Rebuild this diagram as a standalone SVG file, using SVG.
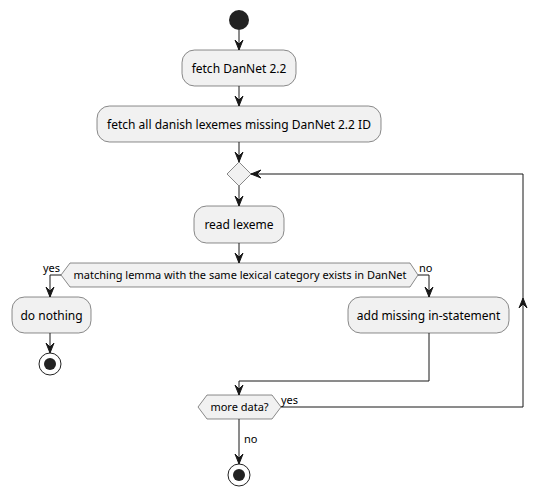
<svg xmlns="http://www.w3.org/2000/svg" width="548" height="495" viewBox="0 0 548 495">
<defs>
<style>
.box{fill:#F1F1F1;stroke:#181818;stroke-width:0.5}
.t{font-family:"Noto Sans","Open Sans",sans-serif;font-size:12px;fill:#000}
.l{font-family:"Noto Sans","Open Sans",sans-serif;font-size:11px;fill:#000}
.c{fill:none;stroke:#181818;stroke-width:1}
.ah{fill:#181818;stroke:#181818;stroke-width:1}
</style>
</defs>
<rect width="548" height="495" fill="#FFFFFF"/>
<g id="start"><circle cx="239" cy="20" r="10" fill="#222222"/></g>
<g id="fetch-dannet"><rect class="box" x="182" y="50" width="114" height="36" rx="12.5"/><text class="t" x="239" y="72.5" text-anchor="middle">fetch DanNet 2.2</text></g>
<g id="fetch-lexemes"><rect class="box" x="97" y="106" width="284" height="36" rx="12.5"/><text class="t" x="239" y="128.5" text-anchor="middle">fetch all danish lexemes missing DanNet 2.2 ID</text></g>
<g id="merge"><polygon class="box" points="239,162 251,174 239,186 227,174"/></g>
<g id="read-lexeme"><rect class="box" x="194" y="206" width="90" height="37" rx="12.5"/><text class="t" x="239" y="229" text-anchor="middle">read lexeme</text></g>
<g id="match-decision"><polygon class="box" points="61,275 70,263 410,263 418,275 410,287 70,287"/><text class="l" x="240" y="279" text-anchor="middle">matching lemma with the same lexical category exists in DanNet</text></g>
<g id="do-nothing"><rect class="box" x="12" y="297" width="79" height="36" rx="12.5"/><text class="t" x="51.5" y="319.5" text-anchor="middle">do nothing</text></g>
<g id="stop1"><circle cx="50" cy="364" r="11" fill="none" stroke="#222222" stroke-width="1"/><circle cx="50" cy="364" r="6" fill="#222222"/></g>
<g id="add-missing"><rect class="box" x="348" y="297" width="161" height="36" rx="12.5"/><text class="t" x="428.5" y="319.5" text-anchor="middle">add missing in-statement</text></g>
<g id="more-data"><polygon class="box" points="198,407 207,395 272,395 281,407 272,419 207,419"/><text class="l" x="239.5" y="411" text-anchor="middle">more data?</text></g>
<g id="stop2"><circle cx="239" cy="475" r="11" fill="none" stroke="#222222" stroke-width="1"/><circle cx="239" cy="475" r="6" fill="#222222"/></g>
<g id="connectors">
<line class="c" x1="239" y1="30" x2="239" y2="50"/>
<polygon class="ah" points="239,50 235,40 239,44 243,40"/>
<line class="c" x1="239" y1="86" x2="239" y2="106"/>
<polygon class="ah" points="239,106 235,96 239,100 243,96"/>
<line class="c" x1="239" y1="142" x2="239" y2="162"/>
<polygon class="ah" points="239,162 235,152 239,156 243,152"/>
<line class="c" x1="239" y1="186" x2="239" y2="206"/>
<polygon class="ah" points="239,206 235,196 239,200 243,196"/>
<line class="c" x1="239" y1="243" x2="239" y2="263"/>
<polygon class="ah" points="239,263 235,253 239,257 243,253"/>
<polyline class="c" points="61,275 50,275 50,297"/>
<polygon class="ah" points="50,297 46,287 50,291 54,287"/>
<text class="l" x="43" y="272">yes</text>
<polyline class="c" points="418,275 429,275 429,297"/>
<polygon class="ah" points="429,297 425,287 429,291 433,287"/>
<text class="l" x="419" y="272">no</text>
<line class="c" x1="50" y1="333" x2="50" y2="353"/>
<polygon class="ah" points="50,353 46,343 50,347 54,343"/>
<polyline class="c" points="429,333 429,381 239,381 239,395"/>
<polygon class="ah" points="239,395 235,385 239,389 243,385"/>
<polyline class="c" points="281,407 523,407 523,174 251,174"/>
<polygon class="ah" points="523,298 519,308 523,304 527,308"/>
<polygon class="ah" points="251,174 261,170 257,174 261,178"/>
<text class="l" x="281" y="404">yes</text>
<line class="c" x1="239" y1="419" x2="239" y2="464"/>
<polygon class="ah" points="239,464 235,454 239,458 243,454"/>
<text class="l" x="244" y="443">no</text>
</g>
</svg>
